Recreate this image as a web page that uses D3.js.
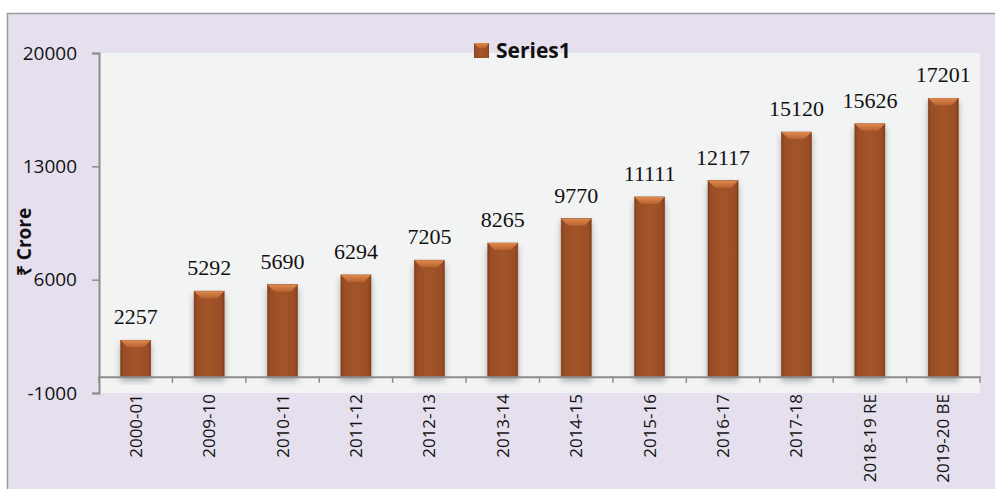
<!DOCTYPE html>
<html>
<head>
<meta charset="utf-8">
<script src="https://cdn.jsdelivr.net/npm/d3@7/dist/d3.min.js"></script>
<style>
  html, body { margin: 0; padding: 0; background: #ffffff; }
  svg { display: block; }
</style>
</head>
<body>
<svg id="chart" width="995" height="489"></svg>
<script>
// Expenditure by year, in ₹ crore
const categories = ["2000-01", "2009-10", "2010-11", "2011-12", "2012-13", "2013-14",
                    "2014-15", "2015-16", "2016-17", "2017-18", "2018-19 RE", "2019-20 BE"];
const values = [2257, 5292, 5690, 6294, 7205, 8265, 9770, 11111, 12117, 15120, 15626, 17201];
const yTicks = [-1000, 6000, 13000, 20000];
const seriesName = "Series1";
const yTitle = "₹ Crore";

const svg = d3.select("#chart");
const W = 995, H = 489;
const plot = { left: 99, top: 53, right: 980, bottom: 393 };
const sans = "'Open Sans', 'Liberation Sans', sans-serif";

// Outer chart frame
svg.append("rect")
  .attr("x", 7.5).attr("y", 13.5)
  .attr("width", W).attr("height", H)
  .attr("fill", "#E6E0EE")
  .attr("stroke", "#9a9a9a").attr("stroke-width", 1.5);

// Plot area
svg.append("rect")
  .attr("x", plot.left).attr("y", plot.top)
  .attr("width", plot.right - plot.left).attr("height", plot.bottom - plot.top)
  .attr("fill", "#F2F3F3");

const x = d3.scaleBand().domain(categories)
  .range([plot.left, plot.right]).paddingInner(0.59).paddingOuter(0.295);
const xb = d3.scaleBand().domain(categories).range([plot.left, plot.right]);
const y = d3.scaleLinear().domain([-1000, 20000]).range([plot.bottom, plot.top]);

// Gradients and shadow
const defs = svg.append("defs");
const bodyGrad = defs.append("linearGradient").attr("id", "barBody")
  .attr("x1", "0").attr("x2", "1").attr("y1", "0").attr("y2", "0");
[["0%", "#7E3F1E"], ["10%", "#9A4E26"], ["50%", "#A3542A"], ["90%", "#9A4E26"], ["100%", "#7E3F1E"]]
  .forEach(([o, c]) => bodyGrad.append("stop").attr("offset", o).attr("stop-color", c));
const capGrad = defs.append("linearGradient").attr("id", "barCap")
  .attr("x1", "0").attr("x2", "0").attr("y1", "0").attr("y2", "1");
[["0%", "#E08A4E"], ["100%", "#B8622F"]]
  .forEach(([o, c]) => capGrad.append("stop").attr("offset", o).attr("stop-color", c));
const shadow = defs.append("filter").attr("id", "shadow")
  .attr("x", "-30%").attr("y", "-10%").attr("width", "160%").attr("height", "130%");
shadow.append("feDropShadow").attr("dx", 0).attr("dy", 4).attr("stdDeviation", 3)
  .attr("flood-color", "#000").attr("flood-opacity", 0.3);

// Bars
const bars = svg.append("g").selectAll("g").data(values).join("g")
  .attr("filter", "url(#shadow)");
bars.append("rect")
  .attr("x", (d, i) => x(categories[i]))
  .attr("y", d => y(d))
  .attr("width", x.bandwidth())
  .attr("height", d => y(0) - y(d))
  .attr("fill", "url(#barBody)")
  .attr("stroke", "#8B4420").attr("stroke-width", 0.6);
// Bevelled top cap
const cap = 7;
bars.append("path")
  .attr("d", (d, i) => {
    const x0 = x(categories[i]), x1 = x0 + x.bandwidth(), t = y(d);
    return `M${x0},${t} L${x1},${t} L${x1 - cap},${t + cap} L${x0 + cap},${t + cap} Z`;
  })
  .attr("fill", "url(#barCap)");

// Value labels
svg.append("g").selectAll("text").data(values).join("text")
  .attr("x", (d, i) => x(categories[i]) + x.bandwidth() / 2)
  .attr("y", d => y(d) - 16)
  .attr("text-anchor", "middle")
  .attr("font-family", "'Liberation Serif', 'DejaVu Serif', serif")
  .attr("font-size", 22)
  .attr("fill", "#111")
  .text(d => d);

// Y axis
const yAxis = svg.append("g")
  .attr("transform", `translate(${plot.left},0)`)
  .call(d3.axisLeft(y).tickValues(yTicks).tickSize(7).tickPadding(15).tickFormat(d => String(d)));
yAxis.select(".domain").attr("stroke", "#8c8c8c").attr("stroke-width", 2);
yAxis.selectAll(".tick line").attr("stroke", "#8c8c8c").attr("stroke-width", 1.5);
yAxis.selectAll(".tick text")
  .attr("font-family", sans)
  .attr("font-size", 19).attr("fill", "#111");

// X axis at zero
const xAxis = svg.append("g")
  .attr("transform", `translate(0,${y(0)})`)
  .call(d3.axisBottom(xb).tickSize(0).tickFormat(""));
xAxis.select(".domain").attr("stroke", "#8c8c8c").attr("stroke-width", 2);
xAxis.selectAll(".tick").remove();
xAxis.selectAll(".sep").data(d3.range(categories.length + 1)).join("line")
  .attr("class", "sep")
  .attr("x1", i => plot.left + i * xb.step())
  .attr("x2", i => plot.left + i * xb.step())
  .attr("y1", 0).attr("y2", 6)
  .attr("stroke", "#8c8c8c").attr("stroke-width", 1.5);

// Category labels, rotated
svg.append("g").selectAll("text").data(categories).join("text")
  .attr("transform", d => `translate(${xb(d) + xb.bandwidth() / 2 + 6},${plot.bottom + 1}) rotate(-90)`)
  .attr("text-anchor", "end")
  .attr("font-family", sans)
  .attr("font-size", 17)
  .attr("fill", "#111")
  .text(d => d);

// Y axis title
svg.append("text")
  .attr("transform", `translate(31,242) rotate(-90)`)
  .attr("text-anchor", "middle")
  .attr("font-family", sans)
  .attr("font-weight", "bold")
  .attr("font-size", 19)
  .attr("fill", "#111")
  .text(yTitle);

// Legend
const lg = svg.append("g").attr("transform", "translate(474,43)");
lg.append("rect").attr("width", 15).attr("height", 15).attr("fill", "url(#barBody)");
lg.append("path").attr("d", "M0,0 L15,0 L11,5 L4,5 Z").attr("fill", "url(#barCap)");
lg.append("text")
  .attr("x", 22).attr("y", 8).attr("dy", "0.35em")
  .attr("font-family", sans)
  .attr("font-weight", "bold")
  .attr("font-size", 21)
  .attr("fill", "#111")
  .text(seriesName);
</script>
</body>
</html>
